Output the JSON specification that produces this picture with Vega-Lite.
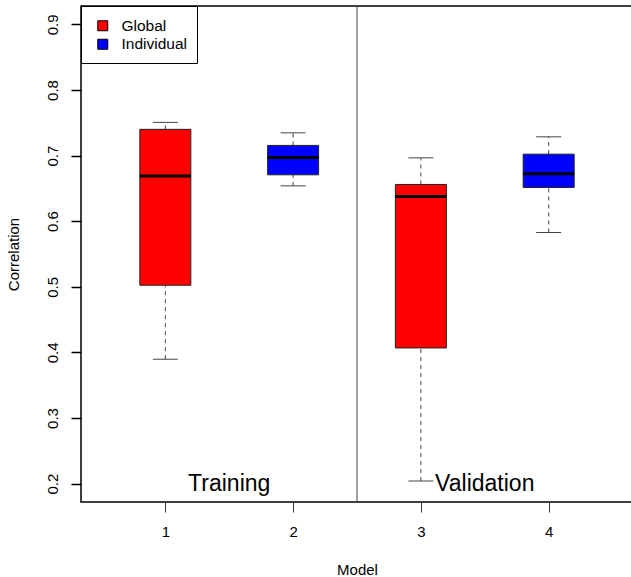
{
  "$schema": "https://vega.github.io/schema/vega-lite/v6.json",
  "width": 552,
  "height": 496,
  "autosize": {"type": "none"},
  "padding": {"left": 81, "top": 6, "right": 0, "bottom": 75},
  "background": "white",
  "datasets": {
    "boxes": [
      {"model": 1, "group": "Global", "low": 0.3896, "q1": 0.5024, "median": 0.669, "q3": 0.740, "high": 0.7506},
      {"model": 2, "group": "Individual", "low": 0.6539, "q1": 0.6707, "median": 0.6972, "q3": 0.7155, "high": 0.7347},
      {"model": 3, "group": "Global", "low": 0.204, "q1": 0.4068, "median": 0.6377, "q3": 0.656, "high": 0.6966},
      {"model": 4, "group": "Individual", "low": 0.5828, "q1": 0.6514, "median": 0.6722, "q3": 0.7022, "high": 0.7286}
    ],
    "labels": [
      {"pos": 1.5, "val": 0.2, "label": "Training"},
      {"pos": 3.5, "val": 0.2, "label": "Validation"}
    ],
    "divider": [
      {"pos": 2.5}
    ]
  },
  "layer": [
    {
      "data": {"name": "divider"},
      "mark": {"type": "rule", "color": "#444", "strokeWidth": 1},
      "encoding": {
        "x": {"field": "pos", "type": "quantitative", "title": "Model", "scale": {"domain": [0.34, 4.66], "nice": false, "zero": false, "padding": 0}, "axis": {"values": [1, 2, 3, 4], "format": "d"}}
      }
    },
    {
      "data": {"name": "boxes"},
      "mark": {"type": "rule", "color": "#444", "strokeDash": [4, 4], "strokeWidth": 1},
      "encoding": {
        "x": {"field": "model", "type": "quantitative", "title": "Model", "scale": {"domain": [0.34, 4.66], "nice": false, "zero": false, "padding": 0}, "axis": {"values": [1, 2, 3, 4], "format": "d"}},
        "y": {"field": "q3", "type": "quantitative", "title": "Correlation", "scale": {"domain": [0.172, 0.928], "nice": false, "zero": false, "padding": 0}},
        "y2": {"field": "high"}
      }
    },
    {
      "data": {"name": "boxes"},
      "mark": {"type": "rule", "color": "#444", "strokeDash": [4, 4], "strokeWidth": 1},
      "encoding": {
        "x": {"field": "model", "type": "quantitative", "title": "Model", "scale": {"domain": [0.34, 4.66], "nice": false, "zero": false, "padding": 0}, "axis": {"values": [1, 2, 3, 4], "format": "d"}},
        "y": {"field": "low", "type": "quantitative", "title": "Correlation", "scale": {"domain": [0.172, 0.928], "nice": false, "zero": false, "padding": 0}},
        "y2": {"field": "q1"}
      }
    },
    {
      "data": {"name": "boxes"},
      "mark": {"type": "tick", "orient": "horizontal", "size": 25, "thickness": 1, "color": "#444", "opacity": 1},
      "encoding": {
        "x": {"field": "model", "type": "quantitative", "title": "Model", "scale": {"domain": [0.34, 4.66], "nice": false, "zero": false, "padding": 0}, "axis": {"values": [1, 2, 3, 4], "format": "d"}},
        "y": {"field": "high", "type": "quantitative", "title": "Correlation", "scale": {"domain": [0.172, 0.928], "nice": false, "zero": false, "padding": 0}}
      }
    },
    {
      "data": {"name": "boxes"},
      "mark": {"type": "tick", "orient": "horizontal", "size": 25, "thickness": 1, "color": "#444", "opacity": 1},
      "encoding": {
        "x": {"field": "model", "type": "quantitative", "title": "Model", "scale": {"domain": [0.34, 4.66], "nice": false, "zero": false, "padding": 0}, "axis": {"values": [1, 2, 3, 4], "format": "d"}},
        "y": {"field": "low", "type": "quantitative", "title": "Correlation", "scale": {"domain": [0.172, 0.928], "nice": false, "zero": false, "padding": 0}}
      }
    },
    {
      "data": {"name": "boxes"},
      "mark": {"type": "bar", "width": 51, "stroke": "#222", "strokeWidth": 1, "opacity": 1},
      "encoding": {
        "x": {"field": "model", "type": "quantitative", "title": "Model", "scale": {"domain": [0.34, 4.66], "nice": false, "zero": false, "padding": 0}, "axis": {"values": [1, 2, 3, 4], "format": "d"}},
        "y": {"field": "q1", "type": "quantitative", "title": "Correlation", "scale": {"domain": [0.172, 0.928], "nice": false, "zero": false, "padding": 0}, "axis": {"values": [0.2, 0.3, 0.4, 0.5, 0.6, 0.7, 0.8, 0.9], "format": ".1f", "orient": "left", "ticks": true, "tickColor": "black", "tickSize": 10, "tickWidth": 1.5, "tickOpacity": 1, "tickCap": "butt", "zindex": 2, "labelAngle": -90, "labelAlign": "center", "labelBaseline": "bottom", "labelPadding": 11, "titlePadding": 24}},
        "y2": {"field": "q3"},
        "color": {
          "field": "group", "type": "nominal",
          "scale": {"domain": ["Global", "Individual"], "range": ["#ff0000", "#0000ff"]},
          "legend": {"title": " ", "orient": "none", "legendX": 0, "legendY": 0}
        }
      }
    },
    {
      "data": {"name": "boxes"},
      "mark": {"type": "tick", "orient": "horizontal", "size": 51, "thickness": 3, "color": "black", "opacity": 1},
      "encoding": {
        "x": {"field": "model", "type": "quantitative", "title": "Model", "scale": {"domain": [0.34, 4.66], "nice": false, "zero": false, "padding": 0}, "axis": {"values": [1, 2, 3, 4], "format": "d"}},
        "y": {"field": "median", "type": "quantitative", "title": "Correlation", "scale": {"domain": [0.172, 0.928], "nice": false, "zero": false, "padding": 0}}
      }
    },
    {
      "data": {"name": "labels"},
      "mark": {"type": "text", "font": "Liberation Sans", "fontSize": 23, "align": "center", "baseline": "middle", "color": "black"},
      "encoding": {
        "x": {"field": "pos", "type": "quantitative", "title": "Model", "scale": {"domain": [0.34, 4.66], "nice": false, "zero": false, "padding": 0}, "axis": {"values": [1, 2, 3, 4], "format": "d"}},
        "y": {"field": "val", "type": "quantitative", "title": "Correlation", "scale": {"domain": [0.172, 0.928], "nice": false, "zero": false, "padding": 0}},
        "text": {"field": "label"}
      }
    }
  ],
  "config": {
    "view": {"stroke": "black", "strokeWidth": 1.5},
    "axis": {
      "domain": false,
      "grid": false,
      "ticks": true,
      "tickColor": "#333",
      "tickSize": 10,
      "tickWidth": 1,
      "labelFont": "Liberation Sans",
      "labelFontSize": 15,
      "labelColor": "black",
      "titleFont": "Liberation Sans",
      "titleFontSize": 15,
      "titleFontWeight": "normal",
      "titleColor": "black"
    },
    "axisX": {"labelPadding": 12, "titlePadding": 23},
    "legend": {
      "strokeColor": "black",
      "fillColor": "white",
      "padding": 10,
      "titleFontSize": 2,
      "titlePadding": 0,
      "symbolType": "square",
      "symbolSize": 100,
      "symbolStrokeColor": "black",
      "symbolStrokeWidth": 1,
      "symbolOpacity": 1,
      "symbolOffset": 4,
      "labelFont": "Liberation Sans",
      "labelFontSize": 15.5,
      "labelColor": "black",
      "labelOffset": 11,
      "rowPadding": 1.5,
      "cornerRadius": 0
    }
  }
}
